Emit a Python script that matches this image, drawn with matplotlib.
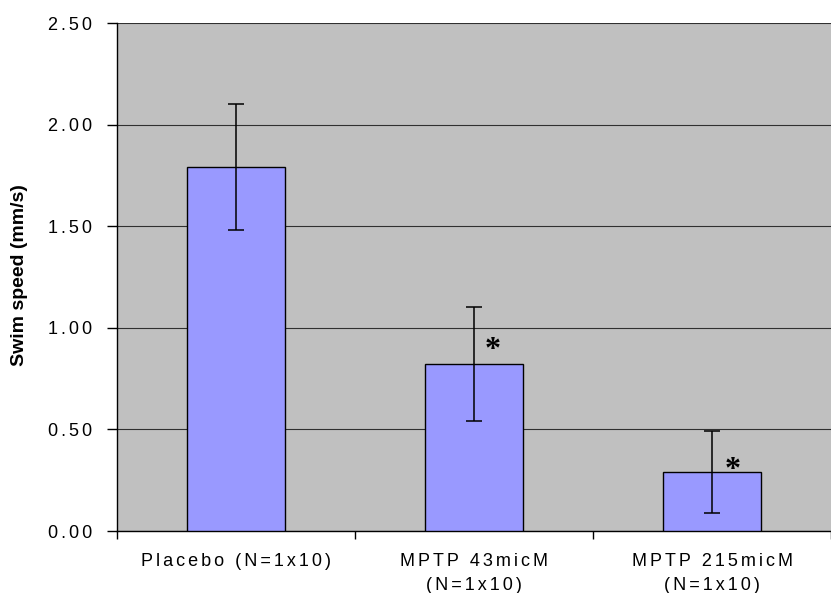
import matplotlib
matplotlib.use("Agg")
import matplotlib.pyplot as plt
import numpy as np

# Swim speed by treatment group
categories = ["Placebo (N=1x10)", "MPTP 43micM\n(N=1x10)", "MPTP 215micM\n(N=1x10)"]
speeds = [1.79, 0.82, 0.29]
errors = [0.31, 0.28, 0.20]
y_ticks = [0.0, 0.5, 1.0, 1.5, 2.0, 2.5]
# significance markers: centre of each asterisk (x position, y value)
star_x = [1.065, 2.075]
star_y = [0.918, 0.33]

FONT = ["Liberation Sans", "DejaVu Sans"]
TRACK = "\u2006"  # six-per-em space used as letter tracking


def spaced(text):
    return "\n".join(TRACK.join(line) for line in text.split("\n"))


W, H = 831, 593
fig = plt.figure(figsize=(W / 100, H / 100), dpi=100)
left, right, top, bottom = 117, 831, 23, 531
ax = fig.add_axes([left / W, (H - bottom) / H, (right - left) / W, (bottom - top) / H])
ax.set_facecolor("#C0C0C0")

x = np.arange(len(categories))
ax.bar(x, speeds, width=0.41, color="#9999FF", edgecolor="black", linewidth=1.0, zorder=3)
ax.errorbar(x, speeds, yerr=errors, fmt="none", ecolor="black", elinewidth=1.1,
            capsize=6, capthick=1.1, zorder=4)

# the serif asterisk sits high above its baseline, so shift the baseline down
for sx, sy in zip(star_x, star_y):
    ax.annotate("*", xy=(sx, sy), xytext=(3, -14), textcoords="offset pixels",
                ha="center", va="baseline", fontsize=23, fontweight="bold",
                family=["Liberation Serif"], color="black", zorder=5)

ax.set_ylim(0, 2.5)
ax.set_xlim(-0.5, -0.5 + (right - left) / 240)
ax.set_yticks(y_ticks)
ax.set_yticklabels([spaced(f"{v:.2f}") for v in y_ticks], family=FONT, fontsize=13)
ax.yaxis.grid(True, color="#303030", linewidth=0.8, zorder=1)
ax.set_axisbelow(True)

ax.set_xticks(x)
ax.set_xticklabels([spaced(c) for c in categories], family=FONT, fontsize=13,
                   linespacing=1.5)
ax.set_xticks(np.arange(-0.5, len(categories) + 0.5, 1.0), minor=True)
ax.tick_params(axis="x", which="major", length=0, pad=16)
ax.tick_params(axis="x", which="minor", length=6, width=1, direction="out", color="black")
ax.tick_params(axis="y", which="major", length=7, width=1, direction="out", pad=11, color="black")

for s in ["top", "right"]:
    ax.spines[s].set_visible(False)
ax.spines["left"].set_color("black")
ax.spines["bottom"].set_color("black")
ax.spines["left"].set_linewidth(1)
ax.spines["bottom"].set_linewidth(1)

fig.text(20 / W, 1 - 275 / H, "Swim speed (mm/s)", rotation=90, ha="center", va="center",
         fontsize=14, fontweight="bold", family=FONT)

fig.savefig("out.png", dpi=100, facecolor="white")
